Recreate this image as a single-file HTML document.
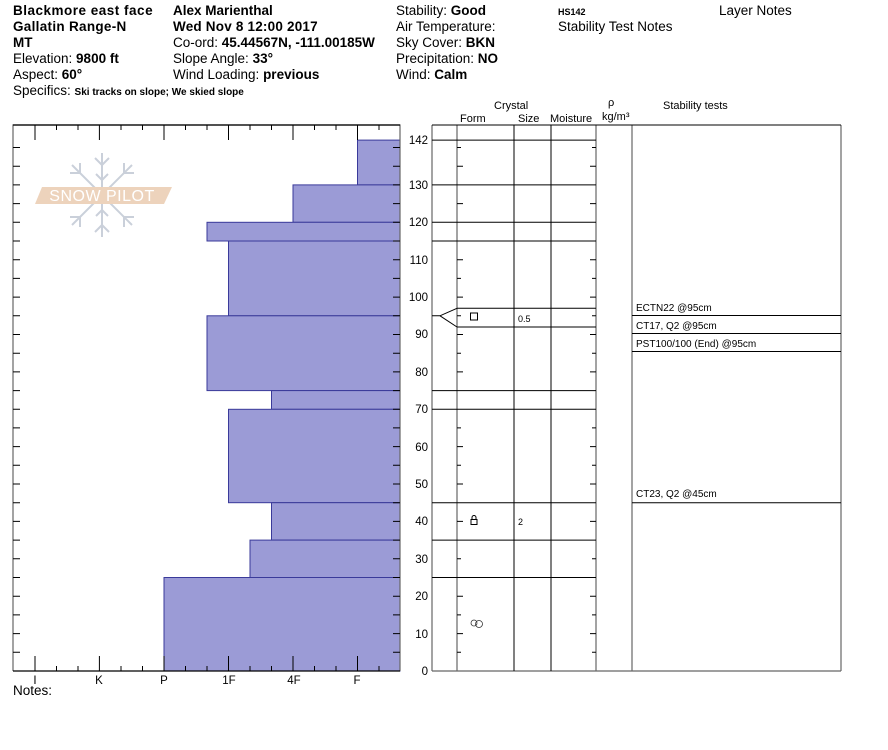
<!DOCTYPE html>
<html><head><meta charset="utf-8"><style>
body{margin:0;background:#fff;width:888px;height:750px;overflow:hidden}
svg{display:block;font-family:"Liberation Sans",sans-serif}
</style></head><body>
<svg width="888" height="750" viewBox="0 0 888 750" xmlns="http://www.w3.org/2000/svg">
<g font-size="13.5" fill="#000">
<text x="13" y="15" font-weight="bold" letter-spacing="0.5">Blackmore east face</text>
<text x="13" y="31" font-weight="bold" letter-spacing="0.3">Gallatin Range-N</text>
<text x="13" y="47" font-weight="bold">MT</text>
<text x="13" y="63">Elevation: <tspan font-weight="bold">9800 ft</tspan></text>
<text x="13" y="79">Aspect: <tspan font-weight="bold">60°</tspan></text>
<text x="13" y="95">Specifics: <tspan font-weight="bold" font-size="10">Ski tracks on slope; We skied slope</tspan></text>
<text x="173" y="15" font-weight="bold">Alex Marienthal</text>
<text x="173" y="31" font-weight="bold" letter-spacing="0.2">Wed Nov 8 12:00 2017</text>
<text x="173" y="47">Co-ord: <tspan font-weight="bold">45.44567N, -111.00185W</tspan></text>
<text x="173" y="63">Slope Angle: <tspan font-weight="bold">33°</tspan></text>
<text x="173" y="79">Wind Loading: <tspan font-weight="bold">previous</tspan></text>
<text x="396" y="15">Stability: <tspan font-weight="bold">Good</tspan></text>
<text x="396" y="31">Air Temperature:</text>
<text x="396" y="47">Sky Cover: <tspan font-weight="bold">BKN</tspan></text>
<text x="396" y="63">Precipitation: <tspan font-weight="bold">NO</tspan></text>
<text x="396" y="79">Wind:  <tspan font-weight="bold">Calm</tspan></text>
<text x="558" y="15" font-weight="bold" font-size="9">HS142</text>
<text x="558" y="31">Stability Test Notes</text>
<text x="719" y="15">Layer Notes</text>
<text x="13" y="695">Notes:</text>
</g>
<g font-size="11" fill="#000">
<text x="494" y="109">Crystal</text>
<text x="460" y="122">Form</text>
<text x="518" y="122">Size</text>
<text x="550" y="122">Moisture</text>
<text x="608" y="106">ρ</text>
<text x="602" y="120">kg/m³</text>
<text x="663" y="109">Stability tests</text>
</g>
<!-- logo -->
<g opacity="0.9">
<g stroke="#c5ccd6" stroke-width="2" fill="none">
<path d="M102 153V237M72 165L132 225M132 165L72 225M102 165l-7-7M102 165l7-7M102 225l-7 7M102 225l7 7M102 180l-6-6M102 180l6-6M102 210l-6 6M102 210l6 6
M80 173l-10 0M80 173l0-10M124 173l10 0M124 173l0-10M80 217l-10 0M80 217l0 10M124 217l10 0M124 217l0 10"/>
</g>
<polygon points="42,187 172,187 164,204 35,204" fill="#eccfb5"/>
<text x="102" y="201" font-size="16" fill="#fff" text-anchor="middle" letter-spacing="0.5">SNOW PILOT</text>
</g>
<!-- bars -->
<g fill="#9b9bd6" stroke="#3a3a9a" stroke-width="1">
<rect x="357.5" y="140.1" width="42.5" height="44.8"/>
<rect x="293" y="184.9" width="107" height="37.4"/>
<rect x="207" y="222.3" width="193" height="18.7"/>
<rect x="228.5" y="241" width="171.5" height="74.8"/>
<rect x="207" y="315.8" width="193" height="74.8"/>
<rect x="271.5" y="390.6" width="128.5" height="18.7"/>
<rect x="228.5" y="409.3" width="171.5" height="93.4"/>
<rect x="271.5" y="502.7" width="128.5" height="37.4"/>
<rect x="250" y="540.1" width="150" height="37.4"/>
<rect x="164" y="577.5" width="236" height="93.5"/>
</g>
<!-- left box -->
<path d="M13 671V125H400V671" fill="none" stroke="#666" stroke-width="1.2"/>
<path d="M13 125H400M13 671H400" stroke="#000" stroke-width="1.2"/>
<path stroke="#000" stroke-width="1" d="M35 125v15M99.4 125v15M164 125v15M228.5 125v15M293 125v15M357.5 125v15
M56.5 125v5M78 125v5M121 125v5M142.5 125v5M185.5 125v5M207 125v5M250 125v5M271.5 125v5M314.5 125v5M336 125v5M379 125v5
M35 671v-15M99.4 671v-15M164 671v-15M228.5 671v-15M293 671v-15M357.5 671v-15
M56.5 671v-5M78 671v-5M121 671v-5M142.5 671v-5M185.5 671v-5M207 671v-5M250 671v-5M271.5 671v-5M314.5 671v-5M336 671v-5M379 671v-5"/>
<path stroke="#000" stroke-width="1" d="M13 652.3h7M13 633.6h7M13 614.9h7M13 596.2h7M13 577.5h7M13 558.8h7M13 540.1h7M13 521.4h7M13 502.7h7M13 484h7M13 465.3h7M13 446.6h7M13 427.9h7M13 409.2h7M13 390.6h7M13 371.9h7M13 353.2h7M13 334.5h7M13 315.8h7M13 297.1h7M13 278.4h7M13 259.7h7M13 241h7M13 222.3h7M13 203.6h7M13 184.9h7M13 166.2h7M13 147.5h7
M400 652.3h-7M400 633.6h-7M400 614.9h-7M400 596.2h-7M400 577.5h-7M400 558.8h-7M400 540.1h-7M400 521.4h-7M400 502.7h-7M400 484h-7M400 465.3h-7M400 446.6h-7M400 427.9h-7M400 409.2h-7M400 390.6h-7M400 371.9h-7M400 353.2h-7M400 334.5h-7M400 315.8h-7M400 297.1h-7M400 278.4h-7M400 259.7h-7M400 241h-7M400 222.3h-7M400 203.6h-7M400 184.9h-7M400 166.2h-7M400 147.5h-7"/>
<g font-size="11.5" text-anchor="middle">
<text x="35" y="684">I</text><text x="99" y="684">K</text><text x="164" y="684">P</text><text x="229" y="684">1F</text><text x="294" y="684">4F</text><text x="357" y="684">F</text>
</g>
<g font-size="11.5" text-anchor="end">
<text x="428" y="675">0</text><text x="428" y="638">10</text><text x="428" y="600">20</text><text x="428" y="563">30</text><text x="428" y="525">40</text><text x="428" y="488">50</text><text x="428" y="451">60</text><text x="428" y="413">70</text><text x="428" y="376">80</text><text x="428" y="338">90</text><text x="428" y="301">100</text><text x="428" y="264">110</text><text x="428" y="226">120</text><text x="428" y="189">130</text><text x="428" y="144">142</text>
</g>
<!-- right table -->
<path fill="none" stroke="#666" stroke-width="1.2" d="M432 671V125M457 671V125M596 671V125M632 671V125M841 671V125M432 671H841"/>
<path stroke="#000" stroke-width="1" d="M432 125H841M514 125V671M551 125V671"/>
<path fill="none" stroke="#000" stroke-width="1" d="M432 140.1H596M432 184.9H596M432 222.3H596M432 241H596M457 308.3H596M457 327H596M432 390.6H596M432 409.3H596M432 502.7H596M432 540.1H596M432 577.5H596
M432 315.8H440L457 308.3M440 315.8L457 327
M632 315.5H841M632 333.5H841M632 351.5H841M632 502.7H841"/>
<path stroke="#000" stroke-width="1" d="M457 652.3h4M457 633.6h6M457 614.9h4M457 596.2h6M457 558.8h4M457 521.4h6M457 484h6M457 465.3h4M457 446.6h6M457 427.9h4M457 371.9h6M457 353.2h4M457 334.5h6M457 297.1h6M457 278.4h4M457 259.7h6M457 203.6h6M457 166.2h6M457 147.5h4M457 315.8h4
M596 652.3h-4M596 633.6h-6M596 614.9h-4M596 596.2h-6M596 558.8h-4M596 521.4h-6M596 484h-6M596 465.3h-4M596 446.6h-6M596 427.9h-4M596 371.9h-6M596 353.2h-4M596 334.5h-6M596 297.1h-6M596 278.4h-4M596 259.7h-6M596 203.6h-6M596 166.2h-6M596 147.5h-4M596 315.8h-4"/>
<rect x="470.5" y="313" width="7" height="7" fill="none" stroke="#000"/>
<text x="518" y="322" font-size="9">0.5</text>
<rect x="471" y="519.5" width="6" height="5" fill="none" stroke="#000"/>
<path d="M472 519.5v-2a2 2 0 0 1 4 0v2" fill="none" stroke="#000"/>
<text x="518" y="525" font-size="9">2</text>
<circle cx="474" cy="623" r="3" fill="none" stroke="#333" stroke-width="0.8"/>
<circle cx="479" cy="624" r="3.5" fill="none" stroke="#333" stroke-width="0.8"/>
<g font-size="10">
<text x="636" y="311">ECTN22 @95cm</text>
<text x="636" y="329">CT17, Q2 @95cm</text>
<text x="636" y="347">PST100/100 (End) @95cm</text>
<text x="636" y="497">CT23, Q2 @45cm</text>
</g>
</svg>
</body></html>
